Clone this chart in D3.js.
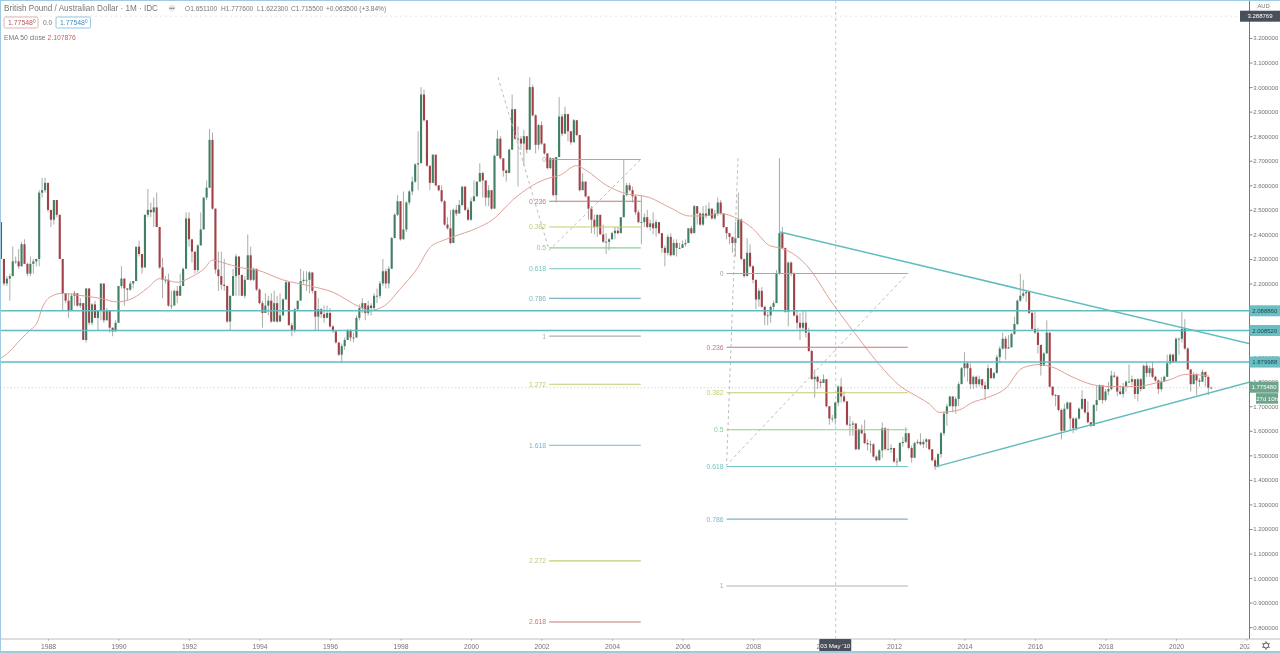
<!DOCTYPE html>
<html><head><meta charset="utf-8">
<script src="https://cdn.jsdelivr.net/npm/d3@7/dist/d3.min.js"></script>
<style>html,body{margin:0;padding:0;background:#fff;overflow:hidden}svg{display:block}text{font-family:"Liberation Sans",Arial,sans-serif}</style>
</head><body><svg id="c" width="1280" height="653"></svg>
<script>
const firstMonth=-16; // months relative to Jan 1988
const closes=[2.30,2.20,2.22,2.23,2.29,2.29,2.27,2.36,2.28,2.24,2.28,2.29,2.30,2.57,2.58,2.61,2.50,2.46,2.54,2.48,
2.30,2.16,2.13,2.09,2.15,2.16,2.11,2.12,1.97,2.18,2.04,2.115,2.06,2.09,2.20,2.05,2.09,2.02,2.005,2.04,
2.19,2.22,2.18,2.175,2.20,2.21,2.35,2.32,2.265,2.48,2.50,2.49,2.51,2.43,2.265,2.215,2.215,2.11,2.11,2.17,
2.15,2.19,2.26,2.465,2.38,2.33,2.255,2.355,2.42,2.55,2.59,2.785,2.505,2.257,2.23,2.195,2.19,2.045,2.15,2.23,
2.31,2.235,2.15,2.215,2.315,2.215,2.26,2.175,2.12,2.08,2.11,2.13,2.045,2.12,2.045,2.07,2.135,2.205,2.03,2.01,
2.095,2.13,2.21,2.215,2.215,2.245,2.17,2.065,2.095,2.075,2.06,2.08,2.025,2.005,1.96,1.91,1.945,1.97,2.01,1.98,
1.98,2.06,2.10,2.12,2.08,2.11,2.10,2.15,2.15,2.20,2.25,2.20,2.26,2.385,2.48,2.535,2.38,2.42,2.53,2.575,
2.615,2.685,2.69,2.97,2.865,2.68,2.61,2.725,2.60,2.58,2.535,2.44,2.425,2.365,2.50,2.485,2.52,2.595,2.50,2.46,
2.535,2.555,2.615,2.65,2.62,2.55,2.58,2.505,2.72,2.79,2.71,2.66,2.65,2.745,2.91,2.79,2.79,2.77,2.80,2.745,
3.0,2.885,2.765,2.845,2.77,2.73,2.67,2.71,2.56,2.715,2.88,2.81,2.89,2.82,2.775,2.865,2.805,2.58,2.615,2.555,
2.505,2.46,2.43,2.48,2.40,2.37,2.37,2.38,2.405,2.415,2.405,2.47,2.56,2.60,2.58,2.555,2.49,2.45,2.45,2.47,
2.43,2.445,2.425,2.45,2.405,2.345,2.325,2.39,2.315,2.365,2.345,2.345,2.36,2.365,2.425,2.405,2.515,2.485,2.44,2.485,
2.475,2.505,2.465,2.485,2.53,2.485,2.43,2.405,2.39,2.365,2.385,2.46,2.30,2.23,2.325,2.27,2.215,2.135,2.17,2.105,
2.07,2.07,2.105,2.12,2.24,2.405,2.345,2.085,2.285,2.24,2.07,2.04,2.02,2.04,2.0,1.925,1.81,1.82,1.80,1.795,
1.81,1.70,1.65,1.65,1.715,1.78,1.74,1.72,1.625,1.625,1.63,1.525,1.605,1.59,1.55,1.545,1.545,1.495,1.48,1.52,
1.61,1.525,1.525,1.53,1.475,1.475,1.55,1.555,1.59,1.53,1.49,1.55,1.555,1.545,1.555,1.565,1.525,1.48,1.455,1.505,
1.59,1.67,1.70,1.74,1.70,1.73,1.79,1.855,1.875,1.855,1.79,1.82,1.79,1.81,1.785,1.77,1.855,1.815,1.835,1.90,
1.935,1.975,1.935,1.94,1.995,2.035,2.13,2.15,2.16,2.165,2.08,2.015,2.0,1.95,1.865,1.915,2.0,1.78,1.745,1.745,
1.685,1.60,1.69,1.715,1.65,1.61,1.65,1.69,1.73,1.675,1.635,1.62,1.705,1.725,1.785,1.725,1.76,1.77,1.825,1.82,
1.76,1.75,1.78,1.80,1.80,1.81,1.75,1.81,1.77,1.865,1.835,1.855,1.82,1.805,1.77,1.80,1.82,1.875,1.91,1.88,
1.975,1.975,2.015,1.935,1.85,1.79,1.83,1.805,1.80,1.84,1.82,1.775,1.7755];
const highs=[2.45,2.29,2.23,2.24,2.35,2.31,2.34,2.37,2.38,2.285,2.31,2.30,2.30,2.58,2.63,2.63,2.60,2.49,2.54,2.54,
2.45,2.27,2.16,2.16,2.16,2.17,2.16,2.14,2.12,2.18,2.16,2.12,2.13,2.09,2.20,2.17,2.10,2.09,2.02,2.05,
2.19,2.27,2.22,2.18,2.21,2.21,2.35,2.375,2.30,2.48,2.585,2.53,2.55,2.57,2.43,2.305,2.23,2.24,2.17,2.175,
2.19,2.24,2.265,2.49,2.49,2.38,2.32,2.36,2.49,2.55,2.62,2.83,2.815,2.505,2.33,2.33,2.30,2.19,2.15,2.26,
2.32,2.31,2.23,2.23,2.40,2.35,2.265,2.26,2.18,2.13,2.16,2.15,2.16,2.17,2.15,2.16,2.14,2.21,2.205,2.04,
2.10,2.13,2.26,2.25,2.25,2.25,2.245,2.17,2.14,2.10,2.11,2.11,2.10,2.03,2.005,1.955,1.955,1.98,2.015,2.015,
2.00,2.07,2.115,2.14,2.12,2.13,2.12,2.16,2.18,2.21,2.30,2.26,2.27,2.39,2.486,2.56,2.535,2.575,2.535,2.58,
2.635,2.69,2.82,3.0,2.99,2.865,2.66,2.725,2.68,2.60,2.60,2.54,2.47,2.50,2.505,2.52,2.54,2.595,2.575,2.51,
2.55,2.62,2.615,2.69,2.655,2.615,2.60,2.58,2.725,2.825,2.80,2.695,2.665,2.75,2.97,2.91,2.84,2.80,2.825,2.80,
3.04,3.01,2.89,2.85,2.86,2.77,2.73,2.715,2.71,2.715,2.96,2.89,2.92,2.89,2.82,2.87,2.865,2.805,2.65,2.615,
2.555,2.515,2.48,2.48,2.44,2.44,2.405,2.385,2.41,2.43,2.43,2.47,2.705,2.61,2.61,2.595,2.56,2.50,2.56,2.485,
2.50,2.46,2.49,2.46,2.45,2.405,2.355,2.40,2.405,2.38,2.38,2.365,2.375,2.38,2.425,2.435,2.52,2.515,2.49,2.515,
2.52,2.53,2.505,2.50,2.55,2.54,2.485,2.43,2.405,2.39,2.45,2.57,2.465,2.30,2.385,2.36,2.275,2.215,2.18,2.185,
2.11,2.085,2.11,2.13,2.255,2.71,2.43,2.345,2.29,2.29,2.245,2.09,2.08,2.09,2.09,2.02,1.93,1.85,1.825,1.81,
1.83,1.81,1.70,1.665,1.72,1.785,1.815,1.76,1.72,1.66,1.64,1.625,1.61,1.625,1.645,1.565,1.56,1.55,1.50,1.525,
1.635,1.615,1.61,1.545,1.53,1.49,1.555,1.575,1.615,1.59,1.54,1.555,1.565,1.59,1.565,1.57,1.565,1.525,1.49,1.51,
1.595,1.68,1.71,1.74,1.74,1.74,1.80,1.86,1.92,1.88,1.875,1.825,1.825,1.825,1.81,1.80,1.87,1.85,1.84,1.91,
1.945,2.0,1.985,1.99,2.0,2.065,2.135,2.24,2.215,2.17,2.165,2.09,2.09,2.02,1.95,1.92,2.05,2.0,1.78,1.75,
1.745,1.69,1.71,1.72,1.715,1.655,1.655,1.695,1.765,1.73,1.72,1.635,1.71,1.785,1.79,1.785,1.77,1.80,1.845,1.84,
1.825,1.785,1.795,1.805,1.87,1.825,1.81,1.815,1.815,1.87,1.88,1.865,1.88,1.825,1.81,1.82,1.825,1.91,1.915,1.915,
1.98,1.98,2.085,2.055,1.94,1.85,1.84,1.835,1.815,1.85,1.84,1.82,1.78];
const lows=[2.30,2.19,2.19,2.13,2.24,2.28,2.26,2.27,2.28,2.23,2.23,2.24,2.27,2.27,2.55,2.57,2.49,2.43,2.44,2.47,
2.30,2.09,2.12,2.06,2.11,2.11,2.105,2.10,1.97,1.96,2.03,2.03,2.06,2.01,2.05,2.04,2.05,2.00,1.985,2.005,
2.05,2.18,2.11,2.13,2.17,2.18,2.21,2.31,2.24,2.27,2.47,2.47,2.43,2.43,2.26,2.14,2.20,2.105,2.095,2.14,
2.12,2.15,2.23,2.26,2.35,2.285,2.24,2.245,2.355,2.42,2.54,2.59,2.50,2.24,2.17,2.175,2.17,2.04,2.01,2.15,
2.15,2.15,2.15,2.14,2.215,2.21,2.21,2.17,2.115,2.02,2.08,2.07,2.04,2.045,2.04,2.045,2.07,2.135,2.03,1.985,
2.00,2.09,2.15,2.20,2.17,2.16,2.16,2.01,2.01,2.06,2.04,2.06,2.02,2.0,1.955,1.905,1.875,1.93,1.97,1.965,
1.96,1.98,2.05,2.08,2.05,2.07,2.07,2.09,2.12,2.14,2.19,2.18,2.18,2.26,2.385,2.475,2.375,2.38,2.41,2.52,
2.56,2.61,2.58,2.69,2.86,2.675,2.58,2.61,2.595,2.575,2.53,2.435,2.42,2.36,2.365,2.475,2.49,2.515,2.495,2.455,
2.455,2.535,2.555,2.615,2.55,2.515,2.515,2.50,2.505,2.72,2.705,2.635,2.615,2.66,2.745,2.785,2.595,2.745,2.68,2.73,
2.745,2.88,2.73,2.745,2.765,2.725,2.665,2.665,2.555,2.53,2.715,2.80,2.82,2.78,2.765,2.78,2.80,2.575,2.58,2.55,
2.46,2.405,2.40,2.39,2.40,2.365,2.32,2.335,2.38,2.38,2.40,2.405,2.47,2.555,2.575,2.53,2.48,2.445,2.36,2.43,
2.425,2.415,2.40,2.39,2.40,2.325,2.27,2.315,2.31,2.32,2.31,2.34,2.345,2.35,2.365,2.40,2.405,2.44,2.435,2.435,
2.465,2.48,2.46,2.46,2.475,2.48,2.425,2.38,2.36,2.325,2.31,2.385,2.295,2.225,2.23,2.265,2.20,2.095,2.105,2.10,
2.03,2.03,2.04,2.09,2.125,2.235,2.34,2.08,2.025,2.23,2.065,2.015,1.97,2.005,1.98,1.92,1.81,1.735,1.77,1.775,
1.795,1.695,1.625,1.635,1.625,1.70,1.715,1.715,1.62,1.58,1.58,1.52,1.52,1.585,1.545,1.52,1.51,1.49,1.475,1.48,
1.49,1.52,1.52,1.51,1.47,1.455,1.48,1.535,1.55,1.525,1.47,1.49,1.545,1.54,1.53,1.53,1.52,1.475,1.44,1.45,
1.49,1.58,1.62,1.70,1.675,1.67,1.70,1.79,1.82,1.80,1.77,1.77,1.775,1.78,1.77,1.725,1.77,1.81,1.81,1.835,
1.875,1.93,1.89,1.935,1.94,1.99,2.03,2.125,2.14,2.125,2.075,2.01,1.995,1.915,1.825,1.865,1.915,1.775,1.74,1.70,
1.68,1.565,1.61,1.685,1.60,1.59,1.60,1.645,1.685,1.67,1.63,1.615,1.62,1.68,1.725,1.71,1.72,1.745,1.765,1.815,
1.74,1.745,1.735,1.76,1.795,1.785,1.73,1.72,1.76,1.78,1.82,1.82,1.815,1.80,1.75,1.76,1.80,1.82,1.87,1.875,
1.88,1.91,1.96,1.93,1.85,1.76,1.79,1.745,1.78,1.80,1.78,1.745,1.77];
const emaMonths=[-16.3,-12.9,-9.5,-6.1,-3.7,-2,0.7,4.8,9.9,17.7,23.5,28.9,33.7,38.1,43.9,49.3,52.7,56.1,59.5,65.3,71.1,79.9,89.1,96.9,106,109.5,114.6,119.7,125.9,129.9,134.4,137.8,145.9,151.4,158.2,165,170.7,174.1,179.9,183.3,190.1,195.6,204.8,211.6,218.4,223.5,228.6,235.4,239.8,245.6,249,252.4,258.2,267,274.5,283,289.8,296.6,300,303.4,310.2,314.6,319.7,326.2,331.6,337.4,341.8,348.6,356.8,362.2,370.4,377.2,381.6,387.4,391.8,395.2];
const emaValues=[1.893,1.925,1.97,2.01,2.04,2.10,2.145,2.16,2.153,2.14,2.125,2.14,2.18,2.22,2.205,2.23,2.255,2.295,2.285,2.265,2.255,2.215,2.19,2.165,2.105,2.09,2.11,2.175,2.265,2.345,2.375,2.39,2.425,2.46,2.54,2.60,2.63,2.64,2.68,2.66,2.60,2.57,2.55,2.51,2.475,2.475,2.485,2.46,2.425,2.355,2.345,2.33,2.275,2.12,2.00,1.87,1.785,1.735,1.71,1.675,1.685,1.715,1.735,1.775,1.855,1.87,1.86,1.82,1.785,1.78,1.78,1.795,1.807,1.83,1.828,1.823];
const priceTicks=[3.2,3.1,3.0,2.9,2.8,2.7,2.6,2.5,2.4,2.3,2.2,1.9,1.8,1.7,1.6,1.5,1.4,1.3,1.2,1.1,1.0,0.9,0.8];
const yearTicks=[1988,1990,1992,1994,1996,1998,2000,2002,2004,2006,2008,2010,2012,2014,2016,2018,2020,2022];
const hLevels=[2.08886,2.00852,1.879988];
const hLabels=["2.088860","2.008520","1.879988"];
const fibLevels=[0,0.236,0.382,0.5,0.618,0.786,1];
const fibLabels=["0","0.236","0.382","0.5","0.618","0.786","1"];
const fibColors=["#a8a8a8","#c07a7a","#c4cb72","#8acf8a","#72c4c4","#7eb4c2","#b0b0b0"];
const fibExtra=[1.272,1.618,2.272,2.618];
const fibExtraColors=["#c4cb72","#7eb2d0","#c4cb72","#c07a7a"];
const fibA={top:2.705,bottom:1.9855,from:170.6,to:201.8};
const fibAdash={m:[153.2,170.6,201.8],p:[3.04,2.335,2.705]};
const fibB={top:2.241,bottom:0.968,from:231,to:292.7};
const fibBdash={m:[234.9,231,292.7],p:[2.71,1.46,2.241]};
const trendDown={m:[249.2,409.2],p:[2.41,1.954]};
const trendUp={m:[302,409.2],p:[1.453,1.799]};
const crossMonth=268; const crossHigh=3.288769; const lastPrice=1.77548;

const root=d3.select("#c");
const defs=root.append("defs");
const x=d3.scaleLinear().domain([0,384]).range([48,1176]);
const y=d3.scaleLinear().domain([0.8,3.2]).range([627.2,38]);
const W=1249.5,B=639;
const TEAL="#62bcbf",GRAY="#737373";
const F=d=>d.toFixed(6);
defs.append("clipPath").attr("id","pane").append("rect").attr("width",W).attr("height",B);
defs.append("clipPath").attr("id","taxis").append("rect").attr("width",W).attr("height",653);
defs.append("filter").attr("id","soft").attr("filterUnits","userSpaceOnUse").attr("x",0).attr("y",0).attr("width",1280).attr("height",653)
  .append("feGaussianBlur").attr("stdDeviation",0.4);
const svg=root.append("g").attr("filter","url(#soft)");
svg.append("rect").attr("width",1280).attr("height",653).attr("fill","#fff");
const pane=svg.append("g").attr("clip-path","url(#pane)");
const line=d3.line().x(d=>x(d[0])).y(d=>y(d[1]));

// crosshair + last price
pane.append("line").attr("x1",x(crossMonth)+0.5).attr("x2",x(crossMonth)+0.5).attr("y1",0).attr("y2",B).attr("stroke","#c6c6c6").attr("stroke-dasharray","3 3").attr("stroke-width",1);
pane.append("line").attr("x1",0).attr("x2",W).attr("y1",y(crossHigh)).attr("y2",y(crossHigh)).attr("stroke","#e2e2e2").attr("stroke-dasharray","2 3").attr("stroke-width",0.8);
pane.append("line").attr("x1",0).attr("x2",W).attr("y1",y(lastPrice)).attr("y2",y(lastPrice)).attr("stroke","#cfcfcf").attr("stroke-dasharray","1.5 2").attr("stroke-width",0.8);

// candles
const idx=d3.range(closes.length);
const cg=pane.append("g");
const GREEN="#3f7f63",RED="#a23f46";
cg.selectAll("line.w").data(idx).join("line").attr("class","w")
 .attr("x1",i=>x(firstMonth+i)).attr("x2",i=>x(firstMonth+i))
 .attr("y1",i=>y(highs[i])).attr("y2",i=>y(lows[i])).attr("stroke","#a9aca9").attr("stroke-width",1);
cg.selectAll("rect").data(idx).join("rect")
 .attr("x",i=>x(firstMonth+i)-1.05).attr("width",2.1)
 .attr("y",i=>{const o=i?closes[i-1]:2.45;return y(Math.max(o,closes[i]));})
 .attr("height",i=>{const o=i?closes[i-1]:2.45;return Math.max(0.8,Math.abs(y(o)-y(closes[i])));})
 .attr("fill",i=>{const o=i?closes[i-1]:2.45;return closes[i]>=o?GREEN:RED;});

// EMA
pane.append("path").datum(d3.zip(emaMonths,emaValues)).attr("d",line.curve(d3.curveMonotoneX)).attr("fill","none").attr("stroke","#e0a098").attr("stroke-width",1);
line.curve(d3.curveLinear);

// fibs
function fib(f,levels,labels,colors){
 levels.forEach((l,i)=>{
  const p=f.top-l*(f.top-f.bottom);
  pane.append("line").attr("x1",x(f.from)).attr("x2",x(f.to)).attr("y1",y(p)).attr("y2",y(p)).attr("stroke",colors[i]).attr("stroke-width",1.1);
  pane.append("text").attr("x",x(f.from)-3).attr("y",y(p)+2.5).attr("text-anchor","end").attr("font-size",6.8).attr("fill",colors[i]).text(labels[i]);
 });
}
fib(fibA,fibLevels.concat(fibExtra),fibLabels.concat(["1.272","1.618","2.272","2.618"]),fibColors.concat(fibExtraColors));
fib(fibB,fibLevels,fibLabels,fibColors);
[fibAdash,fibBdash].forEach(d=>pane.append("path").datum(d3.zip(d.m,d.p)).attr("d",line).attr("fill","none").attr("stroke","#bcbcbc").attr("stroke-width",1).attr("stroke-dasharray","3 3"));

// horizontals + trends
hLevels.forEach(p=>pane.append("line").attr("x1",0).attr("x2",W).attr("y1",y(p)).attr("y2",y(p)).attr("stroke",TEAL).attr("stroke-width",1.5));
[trendDown,trendUp].forEach(d=>pane.append("path").datum(d3.zip(d.m,d.p)).attr("d",line).attr("fill","none").attr("stroke",TEAL).attr("stroke-width",1.5));

// price axis
const ay=svg.append("g").attr("transform",`translate(${W},0)`).call(d3.axisRight(y).tickValues(priceTicks).tickFormat(F).tickSize(3).tickPadding(0.7));
ay.select(".domain").remove();
ay.selectAll("line").attr("stroke","#888");
ay.selectAll("text").attr("font-size",6).attr("fill",GRAY).attr("font-family","Liberation Sans");
svg.append("line").attr("x1",W).attr("x2",W).attr("y1",0).attr("y2",B).attr("stroke","#777").attr("stroke-width",1);

// time axis
const at=svg.append("g").attr("clip-path","url(#taxis)").append("g").attr("transform",`translate(0,${B})`)
 .call(d3.axisBottom(x).tickValues(yearTicks.map(v=>(v-1988)*12)).tickFormat(v=>String(1988+v/12)).tickSize(1.5).tickPadding(3.5));
at.select(".domain").remove();
at.selectAll("line").attr("stroke","#999");
at.selectAll("text").attr("font-size",6.8).attr("fill",GRAY).attr("font-family","Liberation Sans");
svg.append("line").attr("x1",0).attr("x2",1280).attr("y1",B).attr("y2",B).attr("stroke","#bdbdbd").attr("stroke-width",1);

// price tags
function tag(px,w,h,x0,fill,col,txt){
 svg.append("rect").attr("x",x0).attr("y",px-h/2).attr("width",w).attr("height",h).attr("fill",fill);
 svg.append("text").attr("x",x0+w/2).attr("y",px+2.2).attr("text-anchor","middle").attr("font-size",6).attr("fill",col).text(txt);
}
hLevels.forEach((p,i)=>tag(y(p),30.5,11,W,"#68c0c4","#23474a",hLabels[i]));
tag(y(lastPrice)-0.5,29,11,W,"#6da58b","#fff","1.775480");
tag(y(lastPrice)+10.7,22,10.5,W+6.5,"#6da58b","#fff","27d 10h");
tag(y(crossHigh),40,11,1240,"#4a4f5a","#fff",F(crossHigh));
svg.append("rect").attr("x",1257).attr("y",2).attr("width",13).attr("height",8).attr("rx",1).attr("fill","#fff").attr("stroke","#e3e3e3").attr("stroke-width",0.6);
svg.append("text").attr("x",1263.5).attr("y",8).attr("text-anchor","middle").attr("font-size",5.8).attr("fill",GRAY).text("AUD");

// crosshair date
svg.append("rect").attr("x",x(crossMonth)-16).attr("y",B).attr("width",32).attr("height",12.5).attr("rx",1).attr("fill","#4a4f5a");
svg.append("text").attr("x",x(crossMonth)).attr("y",647.5).attr("text-anchor","middle").attr("font-size",6.2).attr("fill","#fff").text("03 May '10");

// gear
const gear=svg.append("g").attr("transform","translate(1266,645.5)").attr("fill","none").attr("stroke","#555");
gear.append("circle").attr("r",2.6).attr("stroke-width",1);
d3.range(6).forEach(i=>gear.append("line").attr("x1",0).attr("x2",0).attr("y1",-2.6).attr("y2",-4.2).attr("stroke-width",1).attr("transform",`rotate(${i*60})`));

// frame
const FR="#9fcbe0";
svg.append("rect").attr("x",0).attr("y",0).attr("width",1280).attr("height",1).attr("fill",FR);
svg.append("rect").attr("x",0).attr("y",0).attr("width",1).attr("height",653).attr("fill",FR);
svg.append("rect").attr("x",0).attr("y",651).attr("width",1280).attr("height",2).attr("fill",FR);

// legend
const txt=(px,py,s,fs,col)=>svg.append("text").attr("x",px).attr("y",py).attr("font-size",fs).attr("fill",col).text(s);
txt(4,10.5,"British Pound / Australian Dollar · 1M · IDC",8.15,"#777");
svg.append("circle").attr("cx",172).attr("cy",8).attr("r",3.5).attr("fill","#ececf0");
svg.append("text").attr("x",172).attr("y",9.5).attr("text-anchor","middle").attr("font-size",5).attr("fill","#666").text("•••");
const ohlcX=[185,221,257,291,326], ohlcT=["O1.651100","H1.777600","L1.622300","C1.715500","+0.063500 (+3.84%)"];
ohlcT.forEach((s,i)=>txt(ohlcX[i],10.5,s,6.6,"#777"));
svg.append("rect").attr("x",4).attr("y",17).attr("width",34).attr("height",11).attr("rx",1.5).attr("fill","#fff").attr("stroke","#d9a0a0").attr("stroke-width",0.8);
txt(8,25,"1.77548",6.9,"#b5585c"); txt(33,23,"0",4.6,"#b5585c");
txt(43,25,"0.0",6.6,"#777");
svg.append("rect").attr("x",56).attr("y",17).attr("width",34.5).attr("height",11).attr("rx",1.5).attr("fill","#fff").attr("stroke","#7ab8dc").attr("stroke-width",0.8);
txt(60,25,"1.77548",6.9,"#3f8fc0"); txt(85,23,"0",4.6,"#3f8fc0");
txt(4,40,"EMA 50 close",6.8,"#777");
txt(47.5,40,"2.107876",6.8,"#c9605a");
</script></body></html>
